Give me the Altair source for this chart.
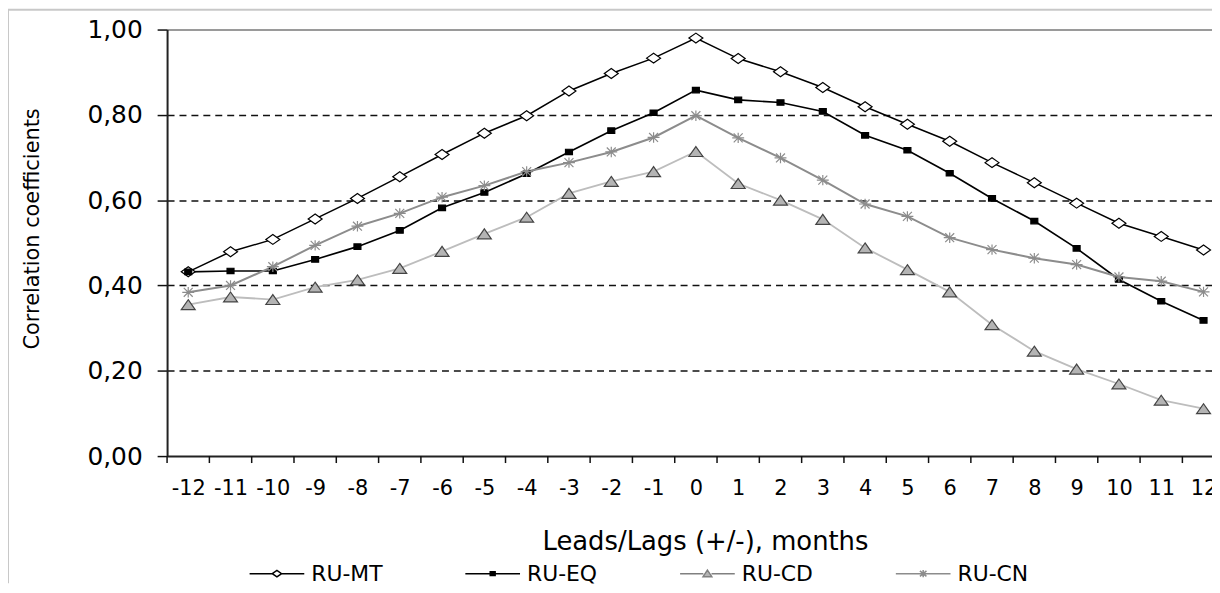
import altair as alt
import pandas as pd

# ---------------- data ----------------
lags = list(range(-12, 13))
series_names = ["RU-MT", "RU-EQ", "RU-CD", "RU-CN"]

ru_mt = [0.432, 0.479, 0.508, 0.556, 0.604, 0.655, 0.707, 0.757, 0.798, 0.856, 0.897, 0.933, 0.980,
         0.932, 0.901, 0.864, 0.819, 0.778, 0.738, 0.688, 0.641, 0.593, 0.546, 0.515, 0.483]
ru_eq = [0.432, 0.434, 0.434, 0.461, 0.491, 0.529, 0.582, 0.618, 0.662, 0.713, 0.763, 0.805, 0.858,
         0.835, 0.829, 0.808, 0.752, 0.717, 0.663, 0.604, 0.551, 0.487, 0.414, 0.363, 0.318]
ru_cd = [0.355, 0.373, 0.367, 0.396, 0.413, 0.440, 0.480, 0.521, 0.560, 0.616, 0.644, 0.667, 0.714,
         0.639, 0.600, 0.555, 0.488, 0.437, 0.385, 0.308, 0.246, 0.204, 0.169, 0.131, 0.111]
ru_cn = [0.384, 0.400, 0.444, 0.494, 0.539, 0.569, 0.607, 0.634, 0.667, 0.688, 0.713, 0.747, 0.798,
         0.746, 0.699, 0.647, 0.591, 0.562, 0.512, 0.484, 0.464, 0.449, 0.420, 0.410, 0.385]

y_ticks = [0.0, 0.2, 0.4, 0.6, 0.8, 1.0]
x_title = "Leads/Lags (+/-), months"
y_title = "Correlation coefficients"

rows = []
for name, vals in zip(series_names, [ru_mt, ru_eq, ru_cd, ru_cn]):
    for lag, v in zip(lags, vals):
        rows.append({"lag": lag, "value": v, "series": name})
df = pd.DataFrame(rows)
tick_df = pd.DataFrame({"lag": [l - 0.5 for l in lags]})
frame_df = pd.DataFrame({"k": [0]})

# ---------------- styling ----------------
FONT = "DejaVu Sans"
W, H = 1051, 429

line_colors = ["#000000", "#000000", "#bdbdbd", "#8c8c8c"]
line_widths = [1.5, 2.0, 1.0, 1.2]
point_shapes = [
    "M-1.4,0L0,-1L1.4,0L0,1Z",
    "M-0.7,-0.55H0.7V0.55H-0.7Z",
    "M0,-1L1.4,1H-1.4Z",
    "M-1.2,0H1.2M-0.9,-0.9L0.9,0.9M-0.9,0.9L0.9,-0.9M0,-1.05V1.05",
]
point_fills = ["#ffffff", "#000000", "#b4b4b4", "#8c8c8c"]
point_strokes = ["#000000", "#000000", "#444444", "#8c8c8c"]

leg_shapes = [
    "M-1,0H-0.17M0.17,0H1M-0.17,0L0,-0.12L0.17,0L0,0.12Z",
    "M-1,0H1M-0.09,-0.07H0.09V0.07H-0.09Z",
    "M-1,0H-0.15M0.15,0H1M0,-0.13L0.16,0.11H-0.16Z",
    "M-1,0H1M-0.12,-0.1L0.12,0.1M-0.12,0.1L0.12,-0.1M0,-0.13V0.13",
]
leg_fills = ["#ffffff", "#000000", "#b4b4b4", "transparent"]
leg_strokes = ["#000000", "#000000", "#808080", "#8c8c8c"]

x_scale = alt.Scale(domain=[-12.5, 12.2], nice=False, zero=False)
y_scale = alt.Scale(domain=[0, 1], nice=False, zero=True)

x_axis = alt.Axis(
    values=lags, ticks=False, labelExpr="'' + datum.value",
    labelFont=FONT, labelFontSize=21, labelColor="#000000", labelPadding=22,
    labelFlush=False, labelOverlap=False,
    domainColor="#222222", domainWidth=2, grid=False,
    title=x_title, titleFont=FONT, titleFontSize=26, titleFontWeight="normal",
    titleColor="#000000", titleX=541, titleY=86, titleBaseline="middle", titleAlign="center",
)
y_axis = alt.Axis(
    values=y_ticks, labelExpr="replace(format(datum.value, '.2f'), '.', ',')",
    labelFont=FONT, labelFontSize=25, labelColor="#000000", labelPadding=15,
    tickSize=10, tickColor="#111111", tickWidth=1.5,
    domainColor="#222222", domainWidth=2,
    grid=True,
    gridColor={"condition": {"test": "datum.value >= 0.99", "value": "#9a9a9a"}, "value": "#111111"},
    gridDash={"condition": {"test": "datum.value >= 0.99", "value": []}, "value": [7, 5]},
    gridWidth={"condition": {"test": "datum.value >= 0.99", "value": 2}, "value": 1.6},
    gridOpacity={"condition": {"test": "datum.value <= 0.01", "value": 0}, "value": 1},
    title=y_title, titleFont=FONT, titleFontSize=21, titleFontWeight="normal",
    titleColor="#000000", titleX=-135, titleY=200, titleAlign="center", titleBaseline="middle",
)

X = alt.X("lag:Q", scale=x_scale, axis=x_axis)
Y = alt.Y("value:Q", scale=y_scale, axis=y_axis)


def make_legend():
    return alt.Legend(
        orient="none", legendX=82, legendY=518.5, direction="horizontal", columns=4,
        columnPadding=80, padding=0, title=None,
        symbolSize=3025, symbolStrokeWidth=1.5, symbolOpacity=1,
        labelFont=FONT, labelFontSize=22, labelColor="#000000", labelOffset=6,
    )


frame = alt.Chart(frame_df).mark_rule(color="#c8c8c8", strokeWidth=2).encode(
    x=alt.value(-160), y=alt.value(-20), y2=alt.value(H + 128)
)
frame_top = alt.Chart(frame_df).mark_rule(color="#c8c8c8", strokeWidth=2).encode(
    x=alt.value(-160), x2=alt.value(W + 10), y=alt.value(-20)
)

ticks = alt.Chart(tick_df).mark_rule(color="#111111", strokeWidth=1.5).encode(
    x=X, y=alt.value(H), y2=alt.value(H + 7)
)

lines = alt.Chart(df).mark_line().encode(
    x=X, y=Y,
    color=alt.Color("series:N", scale=alt.Scale(domain=series_names, range=line_colors), legend=None),
    strokeWidth=alt.StrokeWidth("series:N", scale=alt.Scale(domain=series_names, range=line_widths), legend=None),
)

points = alt.Chart(df).mark_point(size=100, opacity=1, strokeWidth=1.2).encode(
    x=X, y=Y,
    shape=alt.Shape("series:N", scale=alt.Scale(domain=series_names, range=point_shapes), legend=None),
    fill=alt.Fill("series:N", scale=alt.Scale(domain=series_names, range=point_fills), legend=None),
    stroke=alt.Stroke("series:N", scale=alt.Scale(domain=series_names, range=point_strokes), legend=None),
)

legend_proxy = alt.Chart(df).transform_filter("false").mark_point(opacity=1, strokeWidth=1.5).encode(
    shape=alt.Shape("series:N", scale=alt.Scale(domain=series_names, range=leg_shapes), legend=make_legend()),
    fill=alt.Fill("series:N", scale=alt.Scale(domain=series_names, range=leg_fills), legend=make_legend()),
    stroke=alt.Stroke("series:N", scale=alt.Scale(domain=series_names, range=leg_strokes), legend=make_legend()),
)

chart = alt.layer(frame, frame_top, ticks, lines, points, legend_proxy).resolve_scale(
    shape="independent", fill="independent", stroke="independent"
).properties(
    width=W, height=H,
    autosize=alt.AutoSizeParams(type="none"),
    padding={"left": 160, "top": 20, "right": 0, "bottom": 128},
    background="white",
).configure_view(stroke=None).configure(font=FONT)

chart.save("out.html", embed_options={"renderer": "svg", "actions": False})
